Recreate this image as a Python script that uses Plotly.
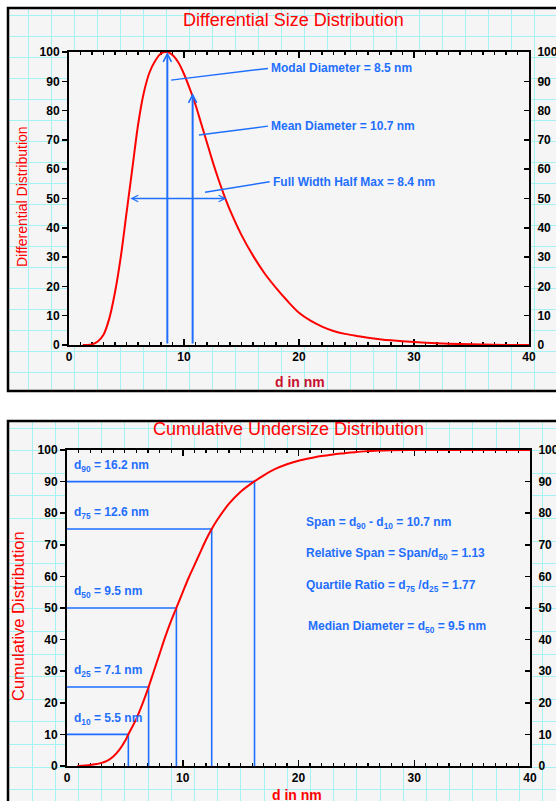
import plotly.graph_objects as go

W, H = 556, 801
FONT = "Liberation Sans, Arial, Helvetica, sans-serif"
RED = "#ff0000"
DARKRED = "#c8102e"
BLUE = "#1f6fff"
CYAN = "#a6f2f2"
BG = "#f5f5f5"

# ---------------- data ----------------
# Differential size distribution (d in nm, relative %)
diff_d = [1.2, 1.6, 2.0, 2.5, 3.0, 3.5, 4.0, 4.5, 5.0, 5.5, 6.0, 6.5, 7.0, 7.5, 8.0, 8.5,
          9.0, 9.5, 10.0, 10.5, 11.0, 11.5, 12.0, 12.5, 13.0, 13.5, 14.0, 15.0, 16.0, 17.0,
          18.0, 19.0, 20.0, 21.0, 22.0, 23.0, 24.0, 25.0, 26.0, 27.0, 28.0, 29.0, 30.0,
          32.0, 34.0, 36.0, 38.0, 40.0]
diff_vals = [0, 0, 0.2, 1.2, 3.5, 9, 18, 30, 45, 60, 75, 86, 93, 97, 99.5, 100,
             99, 96.5, 92.5, 87.5, 82, 75.5, 69, 62.5, 56.5, 51, 46, 37.5, 30.5, 24.5,
             19.5, 15, 11, 8.3, 6.3, 4.8, 3.8, 3.1, 2.5, 2.0, 1.6, 1.3, 1.0,
             0.6, 0.3, 0.15, 0, 0]

# Cumulative undersize distribution
cum_d = [0.9, 2, 3, 3.5, 4, 4.5, 5, 5.3, 6, 6.5, 7, 7.5, 8, 8.5, 9, 9.5, 10, 10.5, 11, 11.5,
         12, 12.5, 13, 14, 15, 16, 17, 18, 19, 20, 21, 22, 23, 24, 25, 26, 27, 28, 29.5, 40]
cum_vals = [0, 0.3, 1, 1.7, 3, 5, 7.8, 10, 15, 19.5, 24.5, 30, 35.5, 41, 46, 50.5, 55, 59.5, 63.5, 67.5,
            71.5, 75, 78, 83, 86.8, 89.6, 92, 94, 95.5, 96.6, 97.4, 98.1, 98.6, 99.0, 99.4, 99.65,
            99.85, 99.95, 100, 100]

# Percentiles (level %, diameter where drawn, label)
pct_levels = [10, 25, 50, 75, 90]
pct_d = [5.3, 7.05, 9.45, 12.5, 16.2]
pct_labels = ["d<sub>10</sub> = 5.5 nm", "d<sub>25</sub> = 7.1 nm", "d<sub>50</sub> = 9.5 nm",
              "d<sub>75</sub> = 12.6 nm", "d<sub>90</sub> = 16.2 nm"]

# Differential markers
modal_d = 8.55
mean_d = 10.75
mean_tip = 86
half_max = 50
fwhm_lo, fwhm_hi = 5.2, 13.7
leader_x = [[8.87, 17.3], [11.3, 17.3], [11.83, 17.45]]
leader_y = [[90.4, 94.4], [71.7, 74.7], [52.1, 55.7]]
leader_texts = ["Modal Diameter = 8.5 nm", "Mean Diameter = 10.7 nm", "Full Width Half Max = 8.4 nm"]

stat_texts = ["Span = d<sub>90</sub> - d<sub>10</sub> = 10.7 nm",
              "Relative Span = Span/d<sub>50</sub> = 1.13",
              "Quartile Ratio = d<sub>75</sub> /d<sub>25</sub> = 1.77",
              "Median Diameter = d<sub>50</sub> = 9.5 nm"]

x_ticks = [0, 10, 20, 30, 40]
y_ticks = [0, 10, 20, 30, 40, 50, 60, 70, 80, 90, 100]


def px_x(p):
    return p / W


def px_y(p):
    return 1 - p / H


fig = go.Figure()

# grid (graph-paper) subplots: need traces to exist
fig.add_trace(go.Scatter(x=[], y=[], xaxis="x", yaxis="y", showlegend=False))
# panel 1 main
fig.add_trace(go.Scatter(x=diff_d, y=diff_vals, mode="lines", line=dict(color=RED, width=2, shape="spline", smoothing=0.8),
                         xaxis="x2", yaxis="y2", showlegend=False, hoverinfo="skip"))
lx, ly = [], []
for xs, ys in zip(leader_x, leader_y):
    lx += xs + [None]
    ly += ys + [None]
fig.add_trace(go.Scatter(x=lx, y=ly, mode="lines", line=dict(color=BLUE, width=1.5),
                         xaxis="x2", yaxis="y2", showlegend=False, hoverinfo="skip"))
fig.add_trace(go.Scatter(x=[], y=[], xaxis="x2", yaxis="y3", showlegend=False))
# panel 2 grid
fig.add_trace(go.Scatter(x=[], y=[], xaxis="x3", yaxis="y4", showlegend=False))
# panel 2 main
px_, py_ = [], []
for p, d in zip(pct_levels, pct_d):
    px_ += [0, d, d, None]
    py_ += [p, p, 0, None]
fig.add_trace(go.Scatter(x=px_, y=py_, mode="lines", line=dict(color=BLUE, width=1.6),
                         xaxis="x4", yaxis="y5", showlegend=False, hoverinfo="skip"))
fig.add_trace(go.Scatter(x=cum_d, y=cum_vals, mode="lines", line=dict(color=RED, width=2, shape="spline", smoothing=0.8),
                         xaxis="x4", yaxis="y5", showlegend=False, hoverinfo="skip"))
fig.add_trace(go.Scatter(x=[], y=[], xaxis="x4", yaxis="y6", showlegend=False))

tickfont = dict(family=FONT, size=12, color="black", weight="bold")
grid_common = dict(showgrid=True, gridcolor=CYAN, gridwidth=1, zeroline=False, showline=False,
                   showticklabels=False, ticks="", fixedrange=True, automargin=False)
main_x = dict(showgrid=False, zeroline=False, showline=True, linecolor="black", linewidth=2,
              tickfont=tickfont, layer="below traces", fixedrange=True, range=[0, 40], automargin=False,
              tickmode="array", tickvals=x_ticks, ticks="inside", ticklen=6, tickwidth=1.5,
              tickcolor="black", mirror="ticks",
              minor=dict(dtick=1, tick0=0, ticks="inside", ticklen=3, tickwidth=1.2, tickcolor="black"))
main_yl = dict(showgrid=False, zeroline=False, showline=True, linecolor="black", linewidth=2,
               tickfont=tickfont, layer="below traces", fixedrange=True, range=[0, 100], automargin=False,
               tickmode="array", tickvals=y_ticks, ticks="outside", ticklen=5, tickwidth=1.5,
               tickcolor="black")
main_yr = dict(main_yl, side="right", ticks="inside", ticklabelstandoff=4)

fig.update_layout(
    width=W, height=H, margin=dict(l=0, r=0, t=0, b=0, pad=0, autoexpand=False),
    paper_bgcolor="white", plot_bgcolor=BG, hovermode=False,
    font=dict(family=FONT),
    xaxis=dict(grid_common, domain=[px_x(7), 1], range=[7, W], anchor="y", tick0=28, dtick=23),
    yaxis=dict(grid_common, domain=[px_y(392), px_y(7)], range=[392, 7], anchor="x", tick0=15, dtick=21),
    xaxis2=dict(main_x, domain=[px_x(69), px_x(529)], anchor="y2"),
    yaxis2=dict(main_yl, domain=[px_y(345), px_y(52)], anchor="x2"),
    yaxis3=dict(main_yr, overlaying="y2", anchor="x2"),
    xaxis3=dict(grid_common, domain=[px_x(7), 1], range=[7, W], anchor="y4", tick0=32, dtick=23.2),
    yaxis4=dict(grid_common, domain=[0, px_y(420)], range=[H, 420], anchor="x3", tick0=428, dtick=22.6),
    xaxis4=dict(main_x, domain=[px_x(67), px_x(530)], anchor="y5"),
    yaxis5=dict(main_yl, domain=[px_y(766), px_y(450)], anchor="x4"),
    yaxis6=dict(main_yr, overlaying="y5", anchor="x4"),
)

shapes = [
    dict(type="rect", xref="paper", yref="paper", x0=px_x(8), x1=px_x(580), y0=px_y(391), y1=px_y(8),
         line=dict(color="black", width=2.5), fillcolor="rgba(0,0,0,0)", layer="above"),
    dict(type="rect", xref="paper", yref="paper", x0=px_x(8), x1=px_x(580), y0=px_y(840), y1=px_y(421),
         line=dict(color="black", width=2.5), fillcolor="rgba(0,0,0,0)", layer="above"),
]
fig.update_layout(shapes=shapes)

ann = []
centered = dict(xref="paper", yref="paper", xanchor="center", yanchor="middle", showarrow=False)
# titles
ann.append(dict(centered, text="Differential Size Distribution", x=px_x(293.5), y=px_y(20),
                font=dict(family=FONT, size=18, color=RED)))
ann.append(dict(centered, text="Cumulative Undersize Distribution", x=px_x(288), y=px_y(428.5),
                font=dict(family=FONT, size=18, color=RED)))
ann.append(dict(centered, text="Differential Distribution", x=px_x(22), y=px_y(197), textangle=-90,
                font=dict(family=FONT, size=14, color=RED)))
ann.append(dict(centered, text="Cumulative Distribution", x=px_x(18), y=px_y(616), textangle=-90,
                font=dict(family=FONT, size=16.5, color=RED)))
ann.append(dict(centered, text="d in nm", x=px_x(299.5), y=px_y(382),
                font=dict(family=FONT, size=14, color=DARKRED, weight="bold")))
ann.append(dict(centered, text="d in nm", x=px_x(297), y=px_y(795),
                font=dict(family=FONT, size=14, color=RED, weight="bold")))

blue_font = dict(family=FONT, size=12, color=BLUE, weight="bold")
# arrows panel 1
arrow_common = dict(xref="x2", yref="y2", axref="x2", ayref="y2", text="", showarrow=True,
                    arrowcolor=BLUE, arrowwidth=2, arrowhead=5, arrowsize=0.8, standoff=0, startstandoff=0)
ann.append(dict(arrow_common, x=modal_d, y=100, ax=modal_d, ay=0))
ann.append(dict(arrow_common, x=mean_d, y=mean_tip, ax=mean_d, ay=0))
ann.append(dict(arrow_common, x=fwhm_hi, y=half_max, ax=fwhm_lo, ay=half_max, arrowwidth=1.6,
                arrowside="end+start", startarrowhead=5, startarrowsize=0.8))
for xs, ys, t in zip(leader_x, leader_y, leader_texts):
    ann.append(dict(text=t, x=xs[1] + 0.1, y=ys[1], xref="x2", yref="y2", xanchor="left", yanchor="middle",
                    showarrow=False, font=blue_font))
# panel 2 labels
label_y = [14.8, 30.2, 55.2, 80.0, 95.0]
for t, yy in zip(pct_labels, label_y):
    ann.append(dict(text=t, x=0.45, y=yy, xref="x4", yref="y5", xanchor="left", yanchor="middle",
                    showarrow=False, font=blue_font))
stat_y = [77.0, 67.1, 57.1, 44.0]
stat_x = [20.48, 20.48, 20.48, 20.65]
for t, xx, yy in zip(stat_texts, stat_x, stat_y):
    ann.append(dict(text=t, x=xx, y=yy, xref="x4", yref="y5", xanchor="left", yanchor="middle",
                    showarrow=False, font=blue_font))

fig.update_layout(annotations=ann)

fig.write_html("out.html", config={"displayModeBar": False, "staticPlot": True},
               post_script="document.body.style.margin='0';document.body.style.overflow='hidden';")
